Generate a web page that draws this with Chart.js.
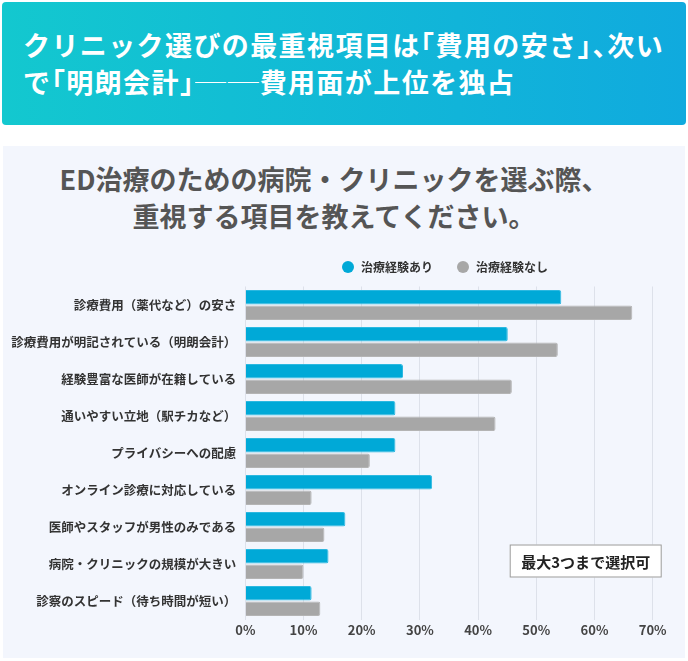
<!DOCTYPE html>
<html lang="ja">
<head>
<meta charset="utf-8">
<script src="https://cdn.jsdelivr.net/npm/chart.js@4.4.1/dist/chart.umd.min.js"></script>
<style>
  html, body { margin: 0; padding: 0; background: #fff; }
  body { width: 688px; height: 661px; position: relative; overflow: hidden;
    font-family: "Noto Sans CJK JP", "Noto Sans", sans-serif; }
  .header { position: absolute; left: 2px; top: 2px; width: 684px; height: 123px;
    border-radius: 4px; background: linear-gradient(90deg, #13c8cf 0%, #10aade 100%);
    color: #fff; font-weight: 700; font-size: 27px; line-height: 37px; letter-spacing: 1.4px;
    box-sizing: border-box; padding: 24px 0 0 21px; white-space: nowrap; }
  .header .p { font-feature-settings: "halt"; }
  .header .dash { display: inline-block; transform: scaleX(1.15); transform-origin: left center;
    margin-right: 8px; }
  .panel { position: absolute; left: 3px; top: 146px; width: 682px; height: 512px;
    background: #f3f6fd; }
  .title { position: absolute; left: 0; top: 160px; width: 668px; text-align: center;
    color: #555; font-weight: 700; font-size: 27px; line-height: 37px; }
  #chart { position: absolute; left: 0; top: 0; }
</style>
</head>
<body>
<div class="header">クリニック選びの最重視項目は<span class="p">「</span>費用の安さ<span class="p">」、</span>次い<br>で<span class="p">「</span>明朗会計<span class="p">」</span><span class="dash">──</span>費用面が上位を独占</div>
<div class="panel"></div>
<div class="title">ED治療のための病院・クリニックを選ぶ際、<br>重視する項目を教えてください。</div>
<canvas id="chart" width="688" height="661"></canvas>
<script>
const categories = [
  '診療費用（薬代など）の安さ',
  '診療費用が明記されている（明朗会計）',
  '経験豊富な医師が在籍している',
  '通いやすい立地（駅チカなど）',
  'プライバシーへの配慮',
  'オンライン診療に対応している',
  '医師やスタッフが男性のみである',
  '病院・クリニックの規模が大きい',
  '診察のスピード（待ち時間が短い）',
];
const seriesNames = ['治療経験あり', '治療経験なし'];
const withTreatment = [54.3, 45.1, 27.1, 25.8, 25.8, 32.1, 17.2, 14.3, 11.4];
const withoutTreatment = [66.5, 53.7, 45.8, 43.0, 21.4, 11.4, 13.6, 10.0, 12.9];
const xTicks = [0, 10, 20, 30, 40, 50, 60, 70];
const noteText = '最大3つまで選択可';

const FONT = '"Noto Sans CJK JP", "Noto Sans", sans-serif';
const BLUE = '#00a9d7';
const GRAY = '#a7a7a7';

// legend drawn centred over the plot area
const legendPlugin = {
  id: 'topLegend',
  afterDraw(chart) {
    const {ctx, chartArea} = chart;
    ctx.save();
    ctx.font = 'bold 12px ' + FONT;
    ctx.textBaseline = 'middle';
    const r = 6;
    const gap = 24;
    const widths = chart.data.datasets.map((d) => r * 2 + 7 + ctx.measureText(d.label).width);
    const total = widths.reduce((a, b) => a + b, 0) + gap;
    let x = (chartArea.left + chartArea.right) / 2 - total / 2 - 4;
    const y = 267;
    chart.data.datasets.forEach((d, i) => {
      ctx.fillStyle = d.backgroundColor;
      ctx.beginPath();
      ctx.arc(x + r, y, r, 0, Math.PI * 2);
      ctx.fill();
      ctx.fillStyle = '#333';
      ctx.fillText(d.label, x + r * 2 + 7, y);
      x += widths[i] + gap;
    });
    ctx.restore();
  },
};

// "max 3 answers" note in the lower right of the plot
const notePlugin = {
  id: 'note',
  afterDatasetsDraw(chart) {
    const {ctx, chartArea} = chart;
    ctx.save();
    const w = 152;
    const h = 33;
    const x = chartArea.right + 9 - w;
    const y = chartArea.bottom - 75;
    ctx.fillStyle = '#fff';
    ctx.fillRect(x, y, w, h);
    ctx.strokeStyle = '#9a9a9a';
    ctx.lineWidth = 1;
    ctx.strokeRect(x + 0.5, y + 0.5, w - 1, h - 1);
    ctx.fillStyle = '#222';
    ctx.font = 'bold 15px ' + FONT;
    ctx.textAlign = 'center';
    ctx.textBaseline = 'middle';
    ctx.fillText(noteText, x + w / 2, y + h / 2 + 1);
    ctx.restore();
  },
};

new Chart(document.getElementById('chart'), {
  type: 'bar',
  data: {
    labels: categories,
    datasets: [
      {
        label: seriesNames[0],
        data: withTreatment,
        backgroundColor: BLUE,
        borderColor: '#2cb8e0',
        borderWidth: 1,
        borderRadius: 2,
        borderSkipped: 'left',
        categoryPercentage: 0.83,
        barPercentage: 0.94,
      },
      {
        label: seriesNames[1],
        data: withoutTreatment,
        backgroundColor: GRAY,
        borderColor: '#b4b4b4',
        borderWidth: 1,
        borderRadius: 2,
        borderSkipped: 'left',
        categoryPercentage: 0.83,
        barPercentage: 0.94,
      },
    ],
  },
  options: {
    indexAxis: 'y',
    responsive: false,
    animation: false,
    layout: {padding: {top: 286.5, right: 35.3, bottom: 0, left: 0}},
    plugins: {
      legend: {display: false},
      tooltip: {enabled: false},
    },
    scales: {
      x: {
        min: 0,
        max: 70,
        afterBuildTicks(axis) {
          axis.ticks = xTicks.map((v) => ({value: v}));
        },
        afterFit(axis) {
          axis.height = 41.5;
        },
        grid: {color: '#dde1ea', drawTicks: false},
        border: {display: false},
        ticks: {
          padding: 3,
          color: '#444',
          font: {family: FONT, size: 13, weight: 'bold'},
          callback: (v) => v + '%',
        },
      },
      y: {
        afterFit(axis) {
          axis.width = 245.3;
        },
        grid: {display: false, drawTicks: false},
        border: {display: false},
        ticks: {
          padding: 9,
          color: '#333',
          font: {family: FONT, size: 12.5, weight: 'bold'},
        },
      },
    },
  },
  plugins: [legendPlugin, notePlugin],
});
</script>
</body>
</html>
